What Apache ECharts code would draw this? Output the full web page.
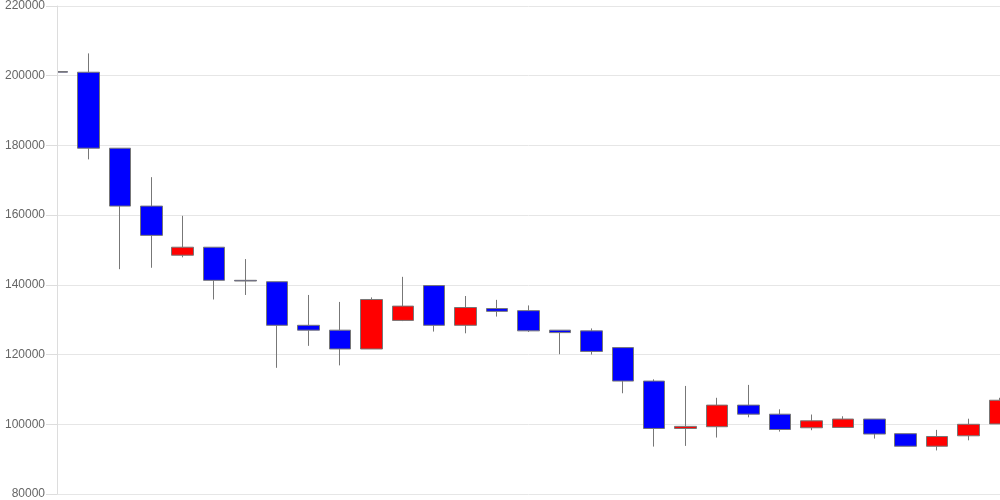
<!DOCTYPE html>
<html>
<head>
<meta charset="utf-8">
<script src="https://cdn.jsdelivr.net/npm/echarts@6/dist/echarts.min.js"></script>
<style>html,body{margin:0;padding:0;background:#fff}#c{width:1000px;height:500px}</style>
</head>
<body>
<div id="c"></div>
<script>
const categories = ["1","2","3","4","5","6","7","8","9","10","11","12","13","14","15","16","17","18","19","20","21","22","23","24","25","26","27","28","29","30","31"];
const opens  = [201200,201000,179200,162600,148500,150800,141300,140900,128400,127000,121600,129800,139800,128400,133200,132600,127000,126800,122000,112400, 98800, 99300,105500,102900, 99000, 99100,101500, 97300, 93700, 96700,100100];
const closes = [201000,179200,162600,154200,150800,141300,141100,128400,127000,121600,135800,133900,128400,133500,132400,126800,126300,120900,112400, 98800, 99400,105500,102900, 98500,101000,101500, 97200, 93700, 96500,100000,106900];
const lows   = [199000,176000,144500,144900,147900,135800,137100,116200,122500,116900,121600,129600,126600,126100,130900,126500,120100,120000,108900, 93600, 93800, 96200,102000, 97900, 98300, 99100, 95900, 93700, 92500, 95400,100100];
const highs  = [203600,206400,179200,170900,159800,150800,147400,140900,137100,135100,136400,142300,139800,136800,135700,134100,127000,127500,122000,112900,111000,107600,111300,104300,102800,102300,101500, 97300, 98400,101600,107600];
const yTicks = [80000,100000,120000,140000,160000,180000,200000,220000];

const data = categories.map((c, i) => [opens[i], closes[i], lows[i], highs[i]]);
const yMin = yTicks[0], yMax = yTicks[yTicks.length - 1];

const chart = echarts.init(document.getElementById('c'));
chart.setOption({
  animation: false,
  backgroundColor: '#fff',
  grid: { left: 57, right: 0, top: 6, bottom: 6, containLabel: false },
  graphic: [{
    type: 'rect', left: 0, top: 0, z: 5, silent: true,
    shape: { width: 57, height: 500 },
    style: { fill: '#ffffff' }
  }],
  xAxis: {
    type: 'category',
    data: categories,
    boundaryGap: false,
    axisLine: { show: false },
    axisTick: { show: false },
    axisLabel: { show: false },
    splitLine: { show: false }
  },
  yAxis: [{
    type: 'value',
    min: yMin, max: yMax, interval: 20000,
    z: 0,
    axisLine: { show: false },
    axisTick: { show: false },
    axisLabel: { show: false },
    splitLine: { show: true, lineStyle: { color: '#e6e6e6' } }
  }, {
    type: 'value',
    position: 'left',
    min: yMin, max: yMax, interval: 20000,
    z: 10,
    axisLine: { show: true, lineStyle: { color: '#dddddd' } },
    axisTick: { show: true, length: 11, lineStyle: { color: '#dddddd' } },
    axisLabel: { color: '#666', fontSize: 12, fontFamily: 'Liberation Sans, Arial, sans-serif', margin: 12, formatter: v => String(v) },
    splitLine: { show: false }
  }],
  series: [{
    type: 'candlestick',
    data: data,
    barWidth: 22,
    yAxisIndex: 0,
    itemStyle: {
      color: '#ff0000',
      color0: '#0000ff',
      borderColor: '#777777',
      borderColor0: '#777777',
      borderWidth: 1
    }
  }]
});
</script>
</body>
</html>
